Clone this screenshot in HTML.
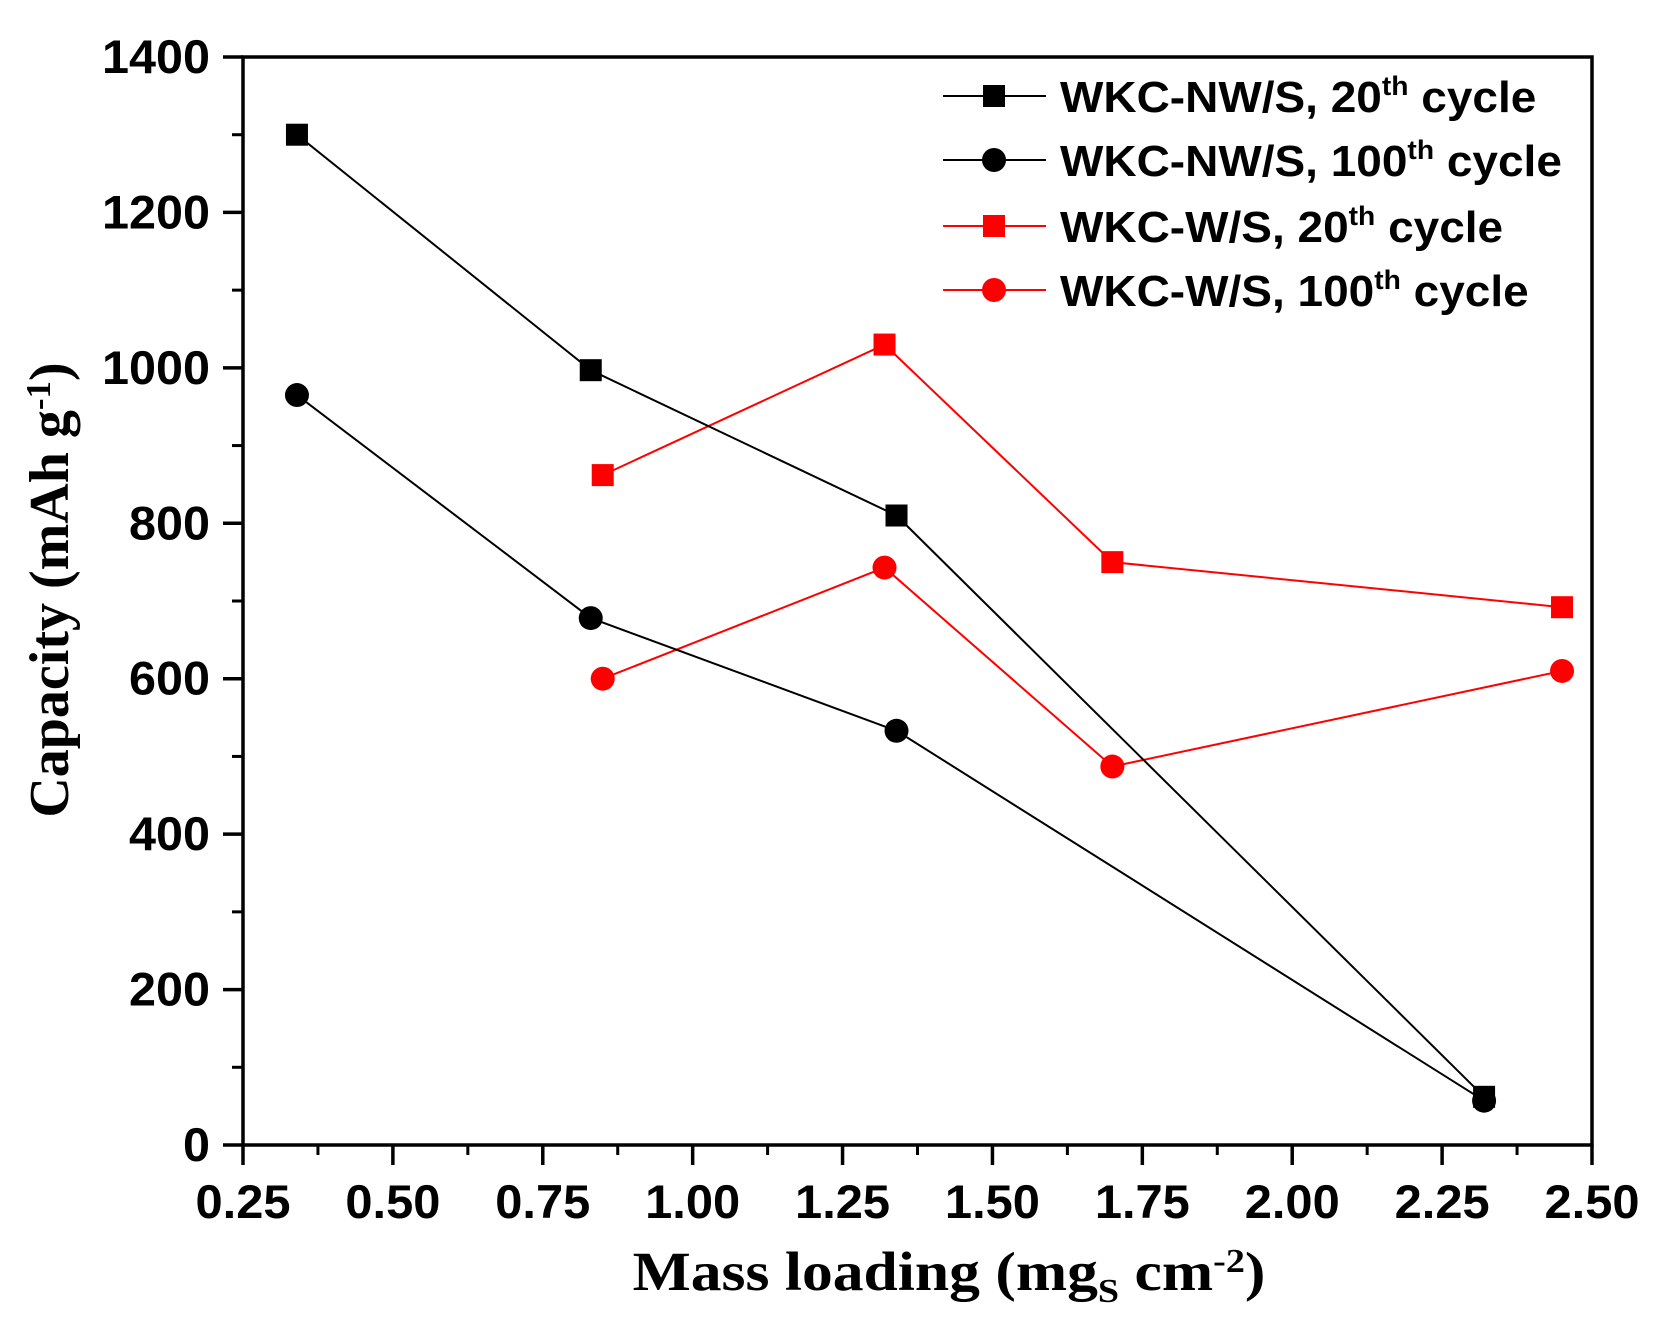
<!DOCTYPE html>
<html><head><meta charset="utf-8"><style>
html,body{margin:0;padding:0;background:#fff;}
svg{display:block;}
</style></head><body>
<svg id="chart" width="1656" height="1325" xmlns="http://www.w3.org/2000/svg">
<g id="axes"></g>
<g id="series"></g>
<g id="legend"></g>
<text transform="translate(68,590) rotate(-90)" text-anchor="middle" font-family="Liberation Serif, serif" font-weight="bold" font-size="56">Capacity (mAh g<tspan dy="-18" font-size="35">-1</tspan><tspan dy="18">)</tspan></text>
<text transform="translate(949,1290) scale(1.12,1)" text-anchor="middle" font-family="Liberation Serif, serif" font-weight="bold" font-size="55">Mass loading (mg<tspan dy="12" font-size="34">S</tspan><tspan dy="-12"> cm</tspan><tspan dy="-18" font-size="34">-2</tspan><tspan dy="18">)</tspan></text>
</svg>
<script>
const xTicks=[0.25,0.5,0.75,1.0,1.25,1.5,1.75,2.0,2.25,2.5];
const xTickLabels=["0.25","0.50","0.75","1.00","1.25","1.50","1.75","2.00","2.25","2.50"];
const yTicks=[0,200,400,600,800,1000,1200,1400];
const nw20X=[0.34,0.83,1.34,2.32];
const nw20Y=[1300,997,810,62];
const nw100X=[0.34,0.83,1.34,2.32];
const nw100Y=[965,678,533,57];
const w20X=[0.85,1.32,1.70,2.45];
const w20Y=[862,1030,750,692];
const w100X=[0.85,1.32,1.70,2.45];
const w100Y=[600,743,487,610];
const seriesNames=["WKC-NW/S, 20","WKC-NW/S, 100","WKC-W/S, 20","WKC-W/S, 100"];

const NS="http://www.w3.org/2000/svg";
const L=243,R=1592,T=57,B=1145;
const sx=v=>L+(v-0.25)/(2.25)*(R-L);
const sy=v=>B-v/1400*(B-T);
function mk(tag,attrs,parent){const e=document.createElementNS(NS,tag);for(const k in attrs)e.setAttribute(k,attrs[k]);parent.appendChild(e);return e;}
const axes=document.getElementById('axes');
let fr=mk('rect',{x:L,y:T,width:R-L,height:B-T,fill:'none',stroke:'#000','stroke-width':3.5},axes);


xTicks.forEach((v,i)=>{
  let t=mk('line',{x1:sx(v),x2:sx(v),y1:B,y2:B+20,stroke:'#000','stroke-width':3.5},axes);
  
  
  if(i<xTicks.length-1){let m=mk('line',{x1:sx(v+0.125),x2:sx(v+0.125),y1:B,y2:B+10,stroke:'#000','stroke-width':3},axes);
  
  }
  let lb=mk('text',{x:sx(v),y:B+73,'text-anchor':'middle','font-family':'Liberation Sans, sans-serif','font-weight':'bold','font-size':47,textLength:95,lengthAdjust:'spacingAndGlyphs'},axes);
  lb.textContent=xTickLabels[i];
  
  
});
yTicks.forEach((v,i)=>{
  let t=mk('line',{x1:L-20,x2:L,y1:sy(v),y2:sy(v),stroke:'#000','stroke-width':3.5},axes);
  
  
  if(i<yTicks.length-1){let m=mk('line',{x1:L-11,x2:L,y1:sy(v+100),y2:sy(v+100),stroke:'#000','stroke-width':3},axes);
  
  }
  const s=String(v);
  let lb=mk('text',{x:L-33,y:sy(v)+16,'text-anchor':'end','font-family':'Liberation Sans, sans-serif','font-weight':'bold','font-size':47,textLength:s.length*27,lengthAdjust:'spacingAndGlyphs'},axes);
  lb.textContent=s;
  
  
});
const sg=document.getElementById('series');
function marker(parent,x,y,shape,color){
  let e;
  if(shape==='sq') e=mk('rect',{x:x-11,y:y-11,width:22,height:22,fill:color},parent);
  else e=mk('circle',{cx:x,cy:y,r:12,fill:color},parent);
  return e;
}
function drawSeries(xs,ys,shape,color,name){
  const g=mk('g',{},sg);
  
  
  let p=mk('polyline',{points:xs.map((x,i)=>sx(x)+','+sy(ys[i])).join(' '),fill:'none',stroke:color,'stroke-width':2},g);
  
  
  xs.forEach((x,i)=>{const m=marker(g,sx(x),sy(ys[i]),shape,color);
    
    });
}
drawSeries(w20X,w20Y,'sq','#f00','series-wkc-w-20th');
drawSeries(w100X,w100Y,'ci','#f00','series-wkc-w-100th');
drawSeries(nw20X,nw20Y,'sq','#000','series-wkc-nw-20th');
drawSeries(nw100X,nw100Y,'ci','#000','series-wkc-nw-100th');
const lg=document.getElementById('legend');
const lgShapes=['sq','ci','sq','ci'],lgColors=['#000','#000','#f00','#f00'],lgY=[96,160,226,290];
seriesNames.forEach((n,i)=>{
  const g=mk('g',{},lg);
  
  
  mk('line',{x1:943,x2:1046,y1:lgY[i],y2:lgY[i],stroke:lgColors[i],'stroke-width':2},g);
  marker(g,994,lgY[i],lgShapes[i],lgColors[i]);
  const t=mk('text',{transform:'translate(1060,'+(lgY[i]+16)+') scale(1.045,1)','font-family':'Liberation Sans, sans-serif','font-weight':'bold','font-size':44},g);
  const parts=n.split(', ');
  t.appendChild(document.createTextNode(parts[0]+', '+parts[1]));
  const sup=mk('tspan',{dy:-17,'font-size':27},t);sup.textContent='th';
  const rest=mk('tspan',{dy:17},t);rest.textContent=' cycle';
});
</script>
</body></html>
